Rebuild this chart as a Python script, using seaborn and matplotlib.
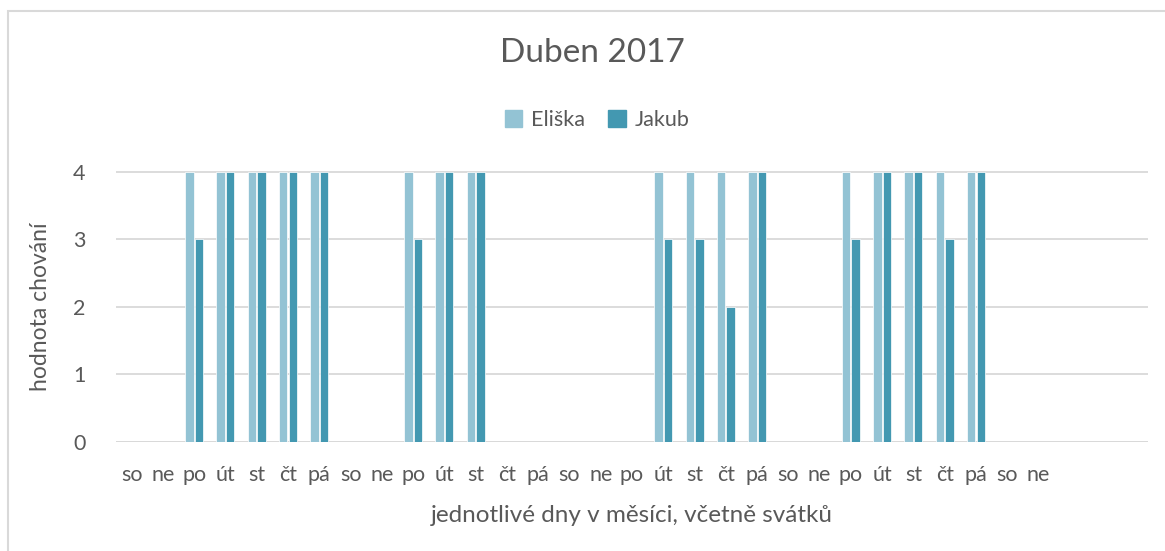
import numpy as np
import pandas as pd
import matplotlib
matplotlib.use("Agg")
import matplotlib.pyplot as plt
import seaborn as sns
from matplotlib.patches import Rectangle

# April 2017 starts on Saturday; 3 empty slots at the end like the original chart
day_labels = ["so", "ne", "po", "út", "st", "čt", "pá"] * 4 + ["so", "ne"] + ["", "", ""]
days = [str(i) for i in range(1, 34)]
nan = np.nan
eliska = [nan, nan, 4, 4, 4, 4, 4,
          nan, nan, 4, 4, 4, nan, nan,
          nan, nan, nan, 4, 4, 4, 4,
          nan, nan, 4, 4, 4, 4, 4,
          nan, nan, nan, nan, nan]
jakub = [nan, nan, 3, 4, 4, 4, 4,
         nan, nan, 3, 4, 4, nan, nan,
         nan, nan, nan, 3, 3, 2, 4,
         nan, nan, 3, 4, 4, 3, 4,
         nan, nan, nan, nan, nan]
series = ["Eliška", "Jakub"]
colors = ["#93C3D4", "#4398B1"]

df = pd.DataFrame({
    "den": days * 2,
    "hodnota": eliska + jakub,
    "jméno": ["Eliška"] * 33 + ["Jakub"] * 33,
})

sns.set_style("white")
plt.rcParams["font.family"] = ["Lato", "DejaVu Sans"]
txt = "#595959"

fig = plt.figure(figsize=(11.65, 5.51), dpi=100)
ax = fig.add_axes([116 / 1165, 1 - 441.7 / 551, 1032 / 1165, 270.5 / 551])

sns.barplot(data=df, x="den", y="hodnota", hue="jméno", order=days, hue_order=series,
            palette=colors, saturation=1, width=0.61, gap=0.12, ax=ax, legend=False,
            edgecolor="white", linewidth=0.5)

ax.set_ylim(0, 4.005)
ax.set_xlim(-0.5, 32.5)
ax.set_yticks([0, 1, 2, 3, 4])
ax.yaxis.grid(True, color="#D9D9D9", linewidth=1.3)
ax.set_axisbelow(True)
for s in ax.spines.values():
    s.set_visible(False)
ax.axhline(0, color="#D9D9D9", linewidth=1.3, zorder=0)
ax.set_xticks(range(33))
ax.set_xticklabels(day_labels)
ax.tick_params(axis="both", length=0, labelsize=15.5, colors=txt)
ax.tick_params(axis="x", pad=17)
ax.tick_params(axis="y", pad=22)
ax.set_xlabel("jednotlivé dny v měsíci, včetně svátků", fontsize=17.5, color=txt, labelpad=14)
ax.set_ylabel("hodnota chování", fontsize=16.5, color=txt, labelpad=16)

fig.text(592 / 1165, 1 - 53 / 551, "Duben 2017", ha="center", va="center", fontsize=24, color=txt)

handles = [Rectangle((0, 0), 1, 1, color=c) for c in colors]
fig.legend(handles, series, loc="center", bbox_to_anchor=(597 / 1165, 1 - 120 / 551), ncol=2,
           frameon=False, fontsize=15.5, labelcolor=txt, handlelength=0.8, handleheight=0.8,
           handletextpad=0.4, columnspacing=1.1)

# chart border (cropped on right and bottom)
fig.patches.append(Rectangle((8 / 1165, -0.1), 1.2, 1 - 11 / 551 + 0.1, transform=fig.transFigure,
                             fill=False, edgecolor="#D9D9D9", linewidth=1.5))

fig.savefig("out.png", dpi=100)
